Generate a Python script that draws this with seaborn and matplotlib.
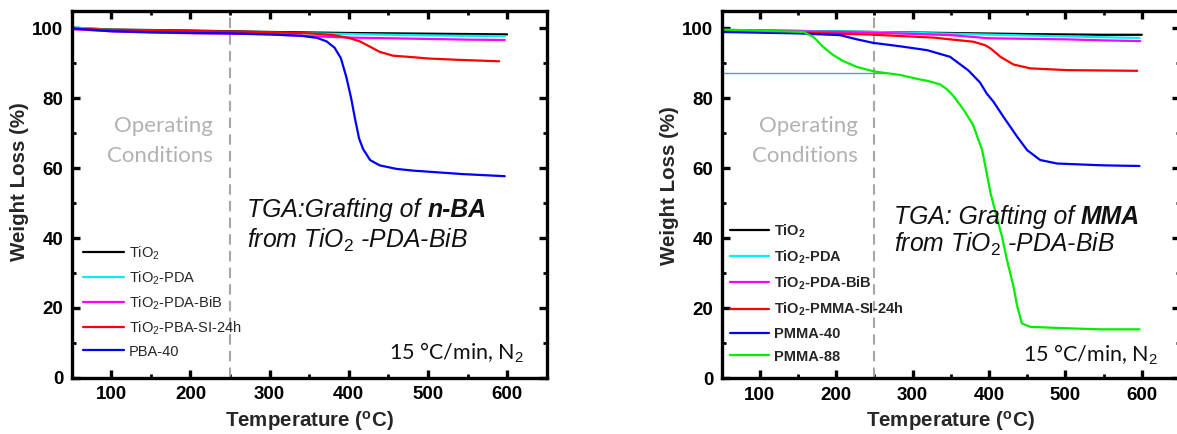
import matplotlib
matplotlib.use("Agg")
import matplotlib.pyplot as plt
from matplotlib.ticker import MultipleLocator
import numpy as np
import pandas as pd
import seaborn as sns

# ---------------- n-BA grafting (left panel) ----------------
nba_tio2_t = [50, 100, 200, 300, 400, 500, 600]
nba_tio2_w = [100.2, 99.7, 99.4, 99.0, 98.7, 98.5, 98.3]
nba_pda_t = [50, 100, 200, 300, 400, 500, 597]
nba_pda_w = [100.3, 99.6, 99.2, 98.8, 98.4, 98.0, 97.8]
nba_bib_t = [50, 100, 150, 250, 300, 350, 400, 500, 550, 597]
nba_bib_w = [99.8, 99.2, 98.8, 98.5, 98.3, 97.8, 97.4, 97.0, 96.8, 96.7]
nba_si_t = [50, 100, 200, 300, 350, 380, 400, 414, 425, 439, 456, 480, 500, 540, 590]
nba_si_w = [100.0, 99.6, 99.3, 98.9, 98.6, 98.1, 97.3, 96.3, 95.0, 93.3, 92.2, 91.8,
            91.4, 91.0, 90.6]
nba_pba_t = [50, 100, 200, 250, 300, 340, 360, 372, 382, 390, 397, 403, 408, 413, 418,
             427, 439, 460, 481, 544, 597]
nba_pba_w = [100.0, 99.2, 98.7, 98.6, 98.3, 97.9, 97.3, 96.3, 94.5, 91.5, 86.0, 80.0,
             74.0, 68.5, 65.5, 62.3, 60.8, 59.8, 59.3, 58.3, 57.7]

nba_names = ["TiO$_2$", "TiO$_2$-PDA", "TiO$_2$-PDA-BiB", "TiO$_2$-PBA-SI-24h", "PBA-40"]
nba_series = [(nba_tio2_t, nba_tio2_w), (nba_pda_t, nba_pda_w), (nba_bib_t, nba_bib_w),
              (nba_si_t, nba_si_w), (nba_pba_t, nba_pba_w)]

# ---------------- MMA grafting (right panel) ----------------
mma_tio2_t = [50, 150, 250, 350, 450, 550, 600]
mma_tio2_w = [99.6, 99.3, 99.0, 98.7, 98.4, 98.2, 98.2]
mma_pda_t = [50, 150, 250, 350, 450, 550, 597]
mma_pda_w = [99.6, 99.3, 99.0, 98.5, 98.0, 97.5, 97.3]
mma_bib_t = [50, 150, 250, 350, 400, 500, 550, 598]
mma_bib_w = [99.5, 99.2, 98.8, 98.1, 97.2, 96.9, 96.6, 96.4]
mma_si_t = [50, 150, 240, 327, 380, 395, 402, 415, 432, 454, 502, 594]
mma_si_w = [99.3, 98.8, 98.3, 97.4, 96.2, 95.2, 94.3, 91.9, 89.7, 88.6, 88.1, 87.9]
mma_40_t = [50, 150, 205, 227, 248, 284, 319, 349, 373, 388, 397, 406, 419, 437, 450,
            467, 489, 546, 568, 597]
mma_40_w = [99.0, 98.6, 98.1, 96.9, 95.9, 94.9, 93.8, 91.9, 88.0, 84.6, 81.4, 79.0,
            74.7, 69.0, 65.2, 62.4, 61.4, 60.9, 60.8, 60.7]
mma_88_t = [50, 157, 170, 183, 196, 209, 227, 250, 284, 306, 320, 336, 345, 353, 366,
            379, 391, 397, 402, 410, 417, 423.5, 432, 437, 443, 454, 502, 546, 597]
mma_88_w = [99.7, 99.0, 97.6, 94.7, 92.4, 90.7, 89.0, 87.7, 86.7, 85.6, 85.0, 84.0,
            82.6, 80.8, 77.0, 72.5, 65.2, 58.6, 52.9, 46.2, 40.5, 33.8, 26.2, 20.5,
            15.7, 14.7, 14.3, 14.0, 14.0]

mma_names = ["TiO$_\\mathbf{2}$", "TiO$_\\mathbf{2}$-PDA", "TiO$_\\mathbf{2}$-PDA-BiB",
             "TiO$_\\mathbf{2}$-PMMA-SI-24h", "PMMA-40", "PMMA-88"]
mma_series = [(mma_tio2_t, mma_tio2_w), (mma_pda_t, mma_pda_w), (mma_bib_t, mma_bib_w),
              (mma_si_t, mma_si_w), (mma_40_t, mma_40_w), (mma_88_t, mma_88_w)]

line_colors = ["#000000", "#00f0f0", "#ff00ff", "#ff0000", "#0000ff", "#00ee00"]

x_ticks = [100, 200, 300, 400, 500, 600]
y_ticks = [0, 20, 40, 60, 80, 100]
operating_limit = 250
plateau_level = 87.4


def long_table(names, series):
    frames = []
    for name, (t, w) in zip(names, series):
        frames.append(pd.DataFrame({"Temperature": t, "Weight": w, "Sample": name}))
    return pd.concat(frames, ignore_index=True)


sns.set_style("ticks")
plt.rcParams.update({
    "font.family": ["Liberation Sans", "DejaVu Sans"],
    "mathtext.fontset": "custom",
    "mathtext.rm": "Liberation Sans",
    "mathtext.it": "Liberation Sans:italic",
    "mathtext.bf": "Liberation Sans:bold",
    "xtick.direction": "in",
    "ytick.direction": "in",
    "xtick.top": True,
    "ytick.right": True,
    "xtick.color": "black",
    "ytick.color": "black",
    "xtick.major.size": 6,
    "ytick.major.size": 6,
    "xtick.minor.size": 3,
    "ytick.minor.size": 3,
    "xtick.major.width": 2.4,
    "ytick.major.width": 2.4,
    "xtick.minor.width": 2.0,
    "ytick.minor.width": 2.0,
    "axes.edgecolor": "black",
    "axes.linewidth": 2.4,
})

W_PX, H_PX = 1177, 434
fig = plt.figure(figsize=(W_PX / 100, H_PX / 100), dpi=100)


def axes_px(left, right, top, bottom):
    return fig.add_axes([left / W_PX, 1 - bottom / H_PX, (right - left) / W_PX,
                         (bottom - top) / H_PX])


ax1 = axes_px(71.7, 546.7, 11, 377.7)
ax2 = axes_px(721.7, 1180, 11, 378.3)

gray_text = "#b2b2b2"


def draw_panel(ax, names, series, label_y):
    df = long_table(names, series)
    sns.lineplot(data=df, x="Temperature", y="Weight", hue="Sample", hue_order=names,
                 palette=line_colors[:len(names)], sort=False, estimator=None,
                 linewidth=1.6, ax=ax)
    ax.set_xlim(50, 650)
    ax.set_ylim(0, 105)
    ax.set_xticks(x_ticks)
    ax.set_xticklabels([str(v) for v in x_ticks], fontweight="bold", fontsize=13.5)
    ax.set_yticks(y_ticks)
    ax.set_yticklabels([str(v) for v in y_ticks], fontweight="bold", fontsize=13.5)
    ax.xaxis.set_minor_locator(MultipleLocator(50))
    ax.yaxis.set_minor_locator(MultipleLocator(10))
    ax.tick_params(which="both", direction="in", top=True, right=True,
                   bottom=True, left=True, color="black")
    ax.tick_params(which="major", pad=6)
    for sp in ax.spines.values():
        sp.set_visible(True)
        sp.set_linewidth(2.4)
        sp.set_color("black")
    ax.set_xlabel("Temperature ($^\\mathbf{o}$C)", fontsize=14.8, fontweight="bold",
                  labelpad=4)
    ax.set_ylabel("Weight Loss (%)", fontsize=14.8, fontweight="bold", labelpad=2)
    ax.yaxis.label.set_y(label_y)
    ax.axvline(operating_limit, color="#a6a6a6", lw=1.5, ls=(0, (5, 3)), zorder=1)
    ax.text(228, 72.2, "Operating", ha="right", va="center", fontsize=16,
            family="Lato", color=gray_text)
    ax.text(228, 63.6, "Conditions", ha="right", va="center", fontsize=16,
            family="Lato", color=gray_text)


draw_panel(ax1, nba_names, nba_series, 0.535)
draw_panel(ax2, mma_names, mma_series, 0.525)

# legends
h1, l1 = ax1.get_legend_handles_labels()
ax1.legend(h1, l1, loc="upper left", bbox_to_anchor=(0.024, 0.363), frameon=False,
           fontsize=10.5, handlelength=2.8, handletextpad=0.35, labelspacing=0.52,
           borderpad=0, borderaxespad=0)
h2, l2 = ax2.get_legend_handles_labels()
ax2.legend(h2, l2, loc="upper left", bbox_to_anchor=(0.018, 0.425), frameon=False,
           prop={"size": 10.5, "weight": "bold"}, handlelength=2.7,
           handletextpad=0.3, labelspacing=0.6, borderpad=0, borderaxespad=0)

# right panel guide line at the plateau reached by PMMA-88
ax2.hlines(plateau_level, 50, 264, color="#5b9bd5", lw=1, zorder=1)


# titles inside the panels
def grafting_label(ax, x, y1, y2, prefix, monomer):
    t1 = ax.text(x, y1, prefix, style="italic", fontsize=17.8, va="baseline",
                 color="#111111")
    ax.annotate(monomer, xy=(1, 0), xycoords=t1, va="bottom", ha="left",
                style="italic", fontweight="bold", fontsize=17.8, color="#111111")
    ax.text(x, y2, "from TiO$_\\mathit{2}$ -PDA-BiB", style="italic", fontsize=17.8,
            va="baseline", color="#111111")


grafting_label(ax1, 272, 45.9, 37.3, "TGA:Grafting of ", "n-BA")
grafting_label(ax2, 275, 44.1, 36.1, "TGA: Grafting of ", "MMA")

for ax, x, y in [(ax1, 450.6, 5.1), (ax2, 445, 4.7)]:
    ax.text(x, y, "15 °C/min, N$_2$", fontsize=15.5, family="Lato", va="baseline",
            color="#111111")

fig.savefig("out.png", dpi=100)
